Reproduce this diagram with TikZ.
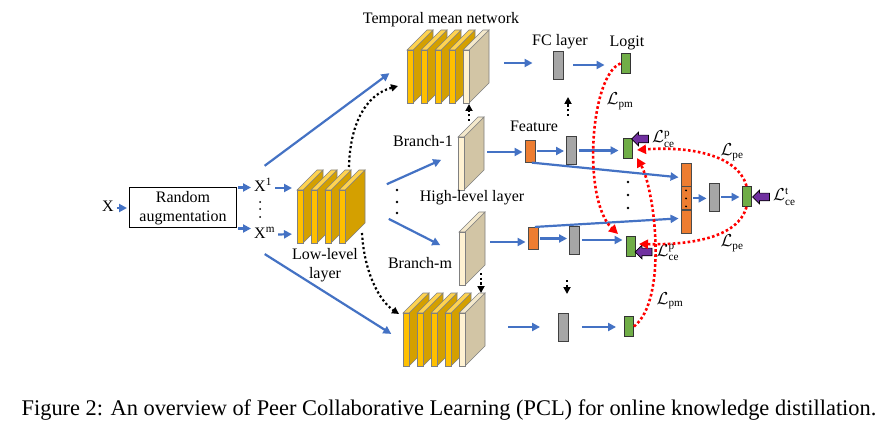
\documentclass[tikz,border=0pt]{standalone}
\usepackage{fontspec}
\setmainfont{Liberation Serif}
\usepackage{amsmath}
\usepackage{graphicx}
\usepackage{tikz}
\usetikzlibrary{arrows.meta,positioning,shapes.arrows,calc}

\definecolor{slabfront}{HTML}{FFC000}
\definecolor{slabside}{HTML}{D4A000}
\definecolor{slabtop}{HTML}{FFD350}
\definecolor{creamfront}{HTML}{FFF2D2}
\definecolor{creamside}{HTML}{D2C5A5}
\definecolor{creamtop}{HTML}{F4E9CC}
\definecolor{flowblue}{HTML}{4472C4}
\definecolor{fcgray}{HTML}{A6A6A6}
\definecolor{logitgreen}{HTML}{70AD47}
\definecolor{featorange}{HTML}{ED7D31}
\definecolor{cepurple}{HTML}{7030A0}

% one slab of a layer block: x, y of front top corner, front, side, top colour
\newcommand{\layerslab}[5]{%
  \filldraw[slabline,fill=#4] (#1+6,#2) -- ++(20,-20) -- ++(0,53) -- ++(-20,20) -- cycle;
  \filldraw[slabline,fill=#5] (#1,#2) -- ++(20,-20) -- ++(6,0) -- ++(-20,20) -- cycle;
  \filldraw[slabline,fill=#3] (#1,#2) rectangle ++(6,53);}

\begin{document}
\begin{tikzpicture}[x=1pt,y=-1pt,
          every node/.style={font=\fontsize{16}{19}\selectfont},
          lbl/.style={text height=11pt,text depth=3pt,inner sep=1pt},
          slabline/.style={draw=black!50,line width=0.6pt},
          flow/.style={flowblue,line width=2.2pt,shorten <=2pt,shorten >=2pt,-{Triangle[length=8pt,width=8pt]}},
          dotflow/.style={black,line width=2.2pt,dash pattern=on 2.2pt off 2.5pt,-{Triangle[length=7pt,width=7pt]}},
          lossflow/.style={red,line width=2.6pt,dash pattern=on 2.6pt off 2.4pt,-{Triangle[length=9pt,width=9pt]}},
          fcbox/.style={draw=black!75,fill=fcgray,line width=0.9pt,minimum width=10pt,minimum height=28pt,inner sep=0pt},
          logitbox/.style={draw=black!80,fill=logitgreen,line width=0.9pt,minimum width=9pt,minimum height=20pt,inner sep=0pt},
          featbox/.style={draw=black!70,fill=featorange,line width=0.9pt,minimum width=10pt,minimum height=22pt,inner sep=0pt},
          cearrow/.style={single arrow,draw=black,fill=cepurple,line width=0.7pt,minimum height=17pt,inner sep=3.5pt,single arrow head extend=3pt,shape border rotate=180}]
          \useasboundingbox[fill=white] (0,0) rectangle (888,438);

          % input and augmentation
          \node[lbl] (x) at (108,208) {X};
          \node[draw,line width=1pt,minimum width=107pt,minimum height=40pt,align=center,inner sep=0pt] (aug) at (183,208) {Random\\augmentation};
          \node[lbl,anchor=west] (x1) at (253,188) {X\textsuperscript{1}};
          \node[lbl,anchor=west] (xm) at (253,235) {X\textsuperscript{m}};
          \foreach \yy in {202,209,217} \fill (260,\yy) circle (1pt);
          \draw[flow] (x) -- (aug);
          \draw[flow,shorten <=1pt] (aug.north east) -- (aug.north east -| x1.west);
          \draw[flow,shorten <=1pt] (aug.south east) -- (aug.south east -| xm.west);

          % layer blocks
          \foreach \sx in {297,311,325,339} \layerslab{\sx}{190}{slabfront}{slabside}{slabtop};
          \foreach \sx in {407,421,435,449} \layerslab{\sx}{50}{slabfront}{slabside}{slabtop};
          \layerslab{463}{50}{creamfront}{creamside}{creamtop};
          \foreach \sx in {403,417,431,445} \layerslab{\sx}{313}{slabfront}{slabside}{slabtop};
          \layerslab{459}{313}{creamfront}{creamside}{creamtop};
          \layerslab{458}{137}{creamfront}{creamside}{creamtop};
          \layerslab{459}{232}{creamfront}{creamside}{creamtop};
          \foreach \yy in {190,202,213} \fill (397,\yy) circle (1.3pt);

          \node[lbl] (tmn-label) at (441,20) {Temporal mean network};
          \node[align=center,inner sep=0pt] (ll-label) at (325,265) {Low-level\\layer};
          \node[lbl] (b1-label) at (423,143) {Branch-1};
          \node[lbl] (bm-label) at (420,265) {Branch-m};
          \node[lbl] (hl-label) at (472,198) {High-level layer};
          \node[lbl] (feat-label) at (534,128) {Feature};
          \node[lbl] (fc-label) at (560,42) {FC layer};
          \node[lbl] (logit-label) at (627,43) {Logit};

          \coordinate (x1-up) at (263,167);
          \coordinate (tmn-in) at (391,72);
          \coordinate (xm-down) at (263,253);
          \coordinate (bot-in) at (393,335);
          \coordinate (ll-in1) at (294,188);
          \coordinate (ll-in2) at (294,234);
          \coordinate (ll-out1) at (385,185);
          \coordinate (b1-in) at (443,159);
          \coordinate (ll-out2) at (387,218);
          \coordinate (bm-in) at (442,246);
          \coordinate (ll-top) at (349,167);
          \coordinate (tmn-dot) at (398,86);
          \coordinate (ll-bot) at (362,233);
          \coordinate (bot-dot) at (399,314);
          \coordinate (b1-top) at (469,121);
          \coordinate (tmn-bot) at (469,104);
          \coordinate (bm-bot) at (481,273);
          \coordinate (bot-top) at (481,293);
          \coordinate (tmn-out) at (502,63);
          \coordinate (b1-out) at (485,152);
          \coordinate (bm-out) at (488,242);
          \coordinate (bot-out) at (506,327);
          \coordinate (mid-up-a) at (568,116);
          \coordinate (mid-up-b) at (568,97);
          \coordinate (mid-dn-a) at (567,280);
          \coordinate (mid-dn-b) at (567,294);

          % heads
          \node[fcbox] (fc1) at (558,65) {};
          \node[logitbox] (logit1) at (625.5,63.5) {};
          \node[featbox] (feat1) at (530,151) {};
          \node[fcbox] (fc2) at (571.5,150.5) {};
          \node[logitbox] (logit2) at (627.5,148.5) {};
          \node[featbox] (featm) at (533,238.5) {};
          \node[fcbox] (fcm) at (574.5,240) {};
          \node[logitbox] (logitm) at (630.5,246) {};
          \node[fcbox] (fcb) at (563.5,327) {};
          \node[logitbox] (logitb) at (629,326.5) {};
          \foreach \yy in {182,195,208} \fill (628,\yy) circle (1.3pt);

          % ensemble
          \node[featbox,minimum height=23pt] (ens1) at (686,174.5) {};
          \node[featbox,minimum height=23pt,below=0pt of ens1] (ens2) {};
          \node[featbox,minimum height=23pt,below=0pt of ens2] (ens3) {};
          \foreach \dd in {-8,0,8} \fill ($(ens2.center)+(0,\dd)$) circle (1.1pt);
          \node[fcbox] (fce) at (714,197) {};
          \node[logitbox] (logite) at (746.5,196.5) {};

          \node[cearrow] (ce1) at (642,139) {};
          \node[cearrow] (cem) at (645.5,252) {};
          \node[cearrow] (cee) at (763,197) {};
          \node[lbl,right=2pt of ce1] (ce1-label) {$\mathcal{L}_{\mathrm{ce}}^{\mathrm{p}}$};
          \node[lbl,right=3pt of cem] (cem-label) {$\mathcal{L}_{\mathrm{ce}}^{\mathrm{p}}$};
          \node[lbl,right=2pt of cee] (cee-label) {$\mathcal{L}_{\mathrm{ce}}^{\mathrm{t}}$};
          \node[lbl] (pm1-label) at (620,101) {$\mathcal{L}_{\mathrm{pm}}$};
          \node[lbl] (pm2-label) at (670,300) {$\mathcal{L}_{\mathrm{pm}}$};
          \node[lbl] (pe1-label) at (732,152) {$\mathcal{L}_{\mathrm{pe}}$};
          \node[lbl] (pe2-label) at (732,243) {$\mathcal{L}_{\mathrm{pe}}$};

          % blue flow
          \draw[flow] (x1-up) -- (tmn-in);
          \draw[flow] (xm-down) -- (bot-in);
          \draw[flow] (x1) -- (ll-in1);
          \draw[flow] (xm) -- (ll-in2);
          \draw[flow] (ll-out1) -- (b1-in);
          \draw[flow] (ll-out2) -- (bm-in);
          \draw[flow,shorten >=20pt] (tmn-out) -- (tmn-out -| fc1.west);
          \draw[flow,shorten <=10pt,shorten >=16pt] (fc1.east) -- (fc1.east -| logit1.west);
          \draw[flow] (b1-out) -- (b1-out -| feat1.west);
          \draw[flow] (feat1) -- (feat1 -| fc2.west);
          \draw[flow,shorten >=4pt] (fc2) -- (fc2 -| logit2.west);
          \draw[flow] (bm-out) -- (bm-out -| featm.west);
          \draw[flow] (featm) -- (featm -| fcm.west);
          \draw[flow,shorten >=3pt] (fcm) -- (fcm -| logitm.west);
          \draw[flow,shorten >=18pt] (bot-out) -- (bot-out -| fcb.west);
          \draw[flow,shorten <=13pt,shorten >=8pt] (fcb) -- (fcb -| logitb.west);
          \draw[flow] (feat1.south) -- ($(ens1.west)+(0,3)$);
          \draw[flow] (featm.north) -- ($(ens3.west)+(0,-4)$);
          \draw[flow] (ens2) -- (ens2 -| fce.west);
          \draw[flow] (fce) -- (fce -| logite.west);

          % dotted
          \draw[dotflow] (ll-top) .. controls (350,125) and (365,95) .. (tmn-dot);
          \draw[dotflow] (ll-bot) .. controls (364,270) and (378,300) .. (bot-dot);
          \draw[dotflow] (b1-top) -- (tmn-bot);
          \draw[dotflow] (bm-bot) -- (bot-top);
          \draw[dotflow] (mid-up-a) -- (mid-up-b);
          \draw[dotflow] (mid-dn-a) -- (mid-dn-b);

          % losses
          \coordinate (pm1-tip) at (618,234);
          \coordinate (pm2-tip) at (637,158);
          \coordinate (pe1-tip) at (637,150);
          \coordinate (pe2-tip) at (639,244);
          \draw[lossflow] (logit1.west) .. controls (590,75) and (582,200) .. (pm1-tip);
          \draw[lossflow] (logitb.east) .. controls (668,300) and (655,190) .. (pm2-tip);
          \draw[lossflow] (logite.north) .. controls (738,155) and (690,146) .. (pe1-tip);
          \draw[lossflow] (logite.south) .. controls (738,238) and (690,245) .. (pe2-tip);

          \node (caption) at (449,410) {\fontsize{22.4}{26}\selectfont Figure 2: An overview of Peer Collaborative Learning (PCL) for online knowledge distillation.};
        \end{tikzpicture}
\end{document}
